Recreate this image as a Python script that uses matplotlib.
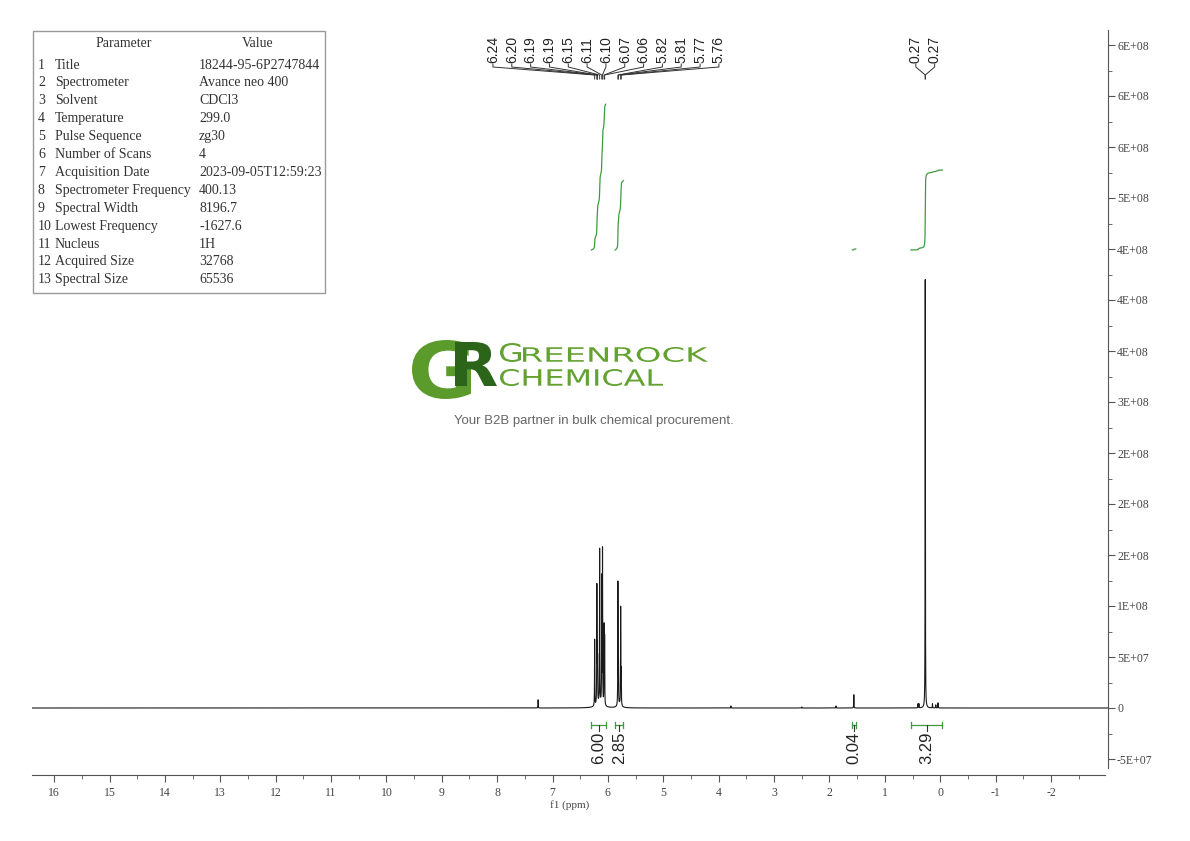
import numpy as np
import matplotlib
matplotlib.use("Agg")
import matplotlib.pyplot as plt
from matplotlib.ticker import MultipleLocator, FixedLocator, FuncFormatter
from matplotlib.transforms import blended_transform_factory, Affine2D
from matplotlib.textpath import TextPath
from matplotlib.font_manager import FontProperties
from matplotlib.patches import PathPatch, Rectangle

# sharp peaks (ppm, intensity)
peak_ppm = [7.26, 6.24, 6.20, 6.193, 6.187, 6.15, 6.112, 6.098, 6.07, 6.06,
            5.82, 5.81, 5.77, 5.76, 3.78, 2.50, 1.88, 1.56,
            0.40, 0.385, 0.27, 0.14, 0.08, 0.04]
peak_height = [8e6, 6.5e7, 1.12e8, 4.3e7, 3.8e7, 1.5e8, 1.22e8, 1.5e8, 7.6e7, 6.5e7,
               1.2e8, 3.8e7, 0.95e8, 3.3e7, 2e6, 1e6, 2e6, 1.3e7,
               4e6, 4e6, 4.2e8, 4e6, 3e6, 5e6]
# broad humps under the multiplets
broad_ppm = [6.15, 5.79]
broad_height = [5e6, 3e6]
broad_width = [0.06, 0.035]

peak_label_groups = [
    [6.24, 6.20, 6.19, 6.19, 6.15, 6.11, 6.10, 6.07, 6.06, 5.82, 5.81, 5.77, 5.76],
    [0.27, 0.27],
]

int_start = [6.30, 5.87, 1.585, 0.53]
int_end = [6.04, 5.72, 1.525, -0.04]
int_value = [6.00, 2.85, 0.04, 3.29]

param_names = ["Title", "Spectrometer", "Solvent", "Temperature", "Pulse Sequence",
               "Number of Scans", "Acquisition Date", "Spectrometer Frequency",
               "Spectral Width", "Lowest Frequency", "Nucleus", "Acquired Size",
               "Spectral Size"]
param_values = ["18244-95-6P2747844", "Avance neo 400", "CDCl3", "299.0", "zg30", "4",
                "2023-09-05T12:59:23", "400.13", "8196.7", "-1627.6", "1H", "32768",
                "65536"]

plt.rcParams['font.family'] = ['Liberation Serif', 'DejaVu Serif']
plt.rcParams['axes.unicode_minus'] = False

W, H = 1190, 841
AX_L, AX_R, AX_T, AX_B = 32, 1108, 30, 768
PX_PER_UNIT = 51 / 5e7  # pixels per intensity unit
Y0_PX = 708             # pixel row of zero intensity

fig = plt.figure(figsize=(W / 100, H / 100), dpi=100)
ax = fig.add_axes([AX_L / W, 1 - AX_B / H, (AX_R - AX_L) / W, (AX_B - AX_T) / H])

# spectrum
x = np.linspace(16.4, -3.03, 400000)
w = 0.0025
y = np.zeros_like(x)
for p, h in zip(peak_ppm, peak_height):
    y += h * w ** 2 / ((x - p) ** 2 + w ** 2)
for p, h, bw in zip(broad_ppm, broad_height, broad_width):
    y += h * bw ** 2 / ((x - p) ** 2 + bw ** 2)
ax.plot(x, y, color='#1a1a1a', lw=0.8)

ax.set_xlim(16.4, -3.03)
ax.set_ylim(-(AX_B - Y0_PX) / PX_PER_UNIT, (Y0_PX - AX_T) / PX_PER_UNIT)

for s in ['top', 'left']:
    ax.spines[s].set_visible(False)
ax.spines['right'].set_color('#555555')
ax.spines['bottom'].set_color('#555555')
ax.spines['bottom'].set_position(('outward', 5))
ax.spines['bottom'].set_bounds(16.4, -2.98)
ax.yaxis.tick_right()
ax.yaxis.set_major_locator(MultipleLocator(5e7))
ax.yaxis.set_minor_locator(MultipleLocator(2.5e7))
ax.yaxis.set_major_formatter(FuncFormatter(lambda v, p: '0' if abs(v) < 1 else f'{v:.0E}'))
ax.xaxis.set_major_locator(FixedLocator(np.arange(-2, 17)))
ax.xaxis.set_minor_locator(FixedLocator(np.arange(-2.5, 16.5, 1.0)))
ax.xaxis.set_major_formatter(FuncFormatter(lambda v, p: f'{v:.0f}'))
ax.tick_params(which='both', color='#555555', labelcolor='#444444', labelsize=8.5)
ax.tick_params(which='major', length=5)
ax.tick_params(which='minor', length=3)
ax.tick_params(axis='y', labelsize=8.5, pad=1.5)
ax.set_xlabel('f1 (ppm)', fontsize=8, color='#444444', labelpad=1)
ax.patch.set_alpha(0)

blend = blended_transform_factory(ax.transData, ax.transAxes)


def yf(ypx):
    return (AX_B - ypx) / (AX_B - AX_T)


# peak labels
spacing = 0.34
for group in peak_label_groups:
    n = len(group)
    center = np.mean(group)
    for i, v in enumerate(group):
        lx = center + ((n - 1) / 2 - i) * spacing
        ax.text(lx, yf(63), f'{v:.2f}', rotation=90, ha='center', va='bottom',
                transform=blend, fontsize=10, family='Liberation Sans', color='#222222')
        ax.plot([lx, lx, v, v], [yf(64), yf(67), yf(75), yf(79)], transform=blend,
                color='#333333', lw=0.7, clip_on=False)

# integrals
green = '#3f9b3f'
for a, b, val in zip(int_start, int_end, int_value):
    m = (x <= a) & (x >= b)
    cum = np.cumsum(y[m])
    cum = cum / cum[-1]
    ax.plot(x[m], yf(250) + cum * val * 24.3 / (AX_B - AX_T), transform=blend,
            color=green, lw=0.9)
    ax.plot([a, b], [yf(725), yf(725)], transform=blend, color=green, lw=0.9)
    ax.plot([a, a], [yf(722), yf(728)], transform=blend, color=green, lw=0.9)
    ax.plot([b, b], [yf(722), yf(728)], transform=blend, color=green, lw=0.9)
    mid = (a + b) / 2
    ax.plot([mid, mid], [yf(725), yf(731)], transform=blend, color='#333333', lw=0.8)
    ax.text(mid, yf(732), f'{val:.2f}', rotation=90, ha='center', va='top',
            transform=blend, fontsize=12, family='Liberation Sans', color='#222222')

# overlay in pixel coordinates for table and logo
ov = fig.add_axes([0, 0, 1, 1])
ov.set_xlim(0, W)
ov.set_ylim(H, 0)
ov.axis('off')
ov.patch.set_alpha(0)

ov.add_patch(Rectangle((33, 31), 292, 262, fill=False, ec='#999999', lw=1))
ov.text(124, 43, 'Parameter', ha='center', va='center', fontsize=10, color='#333333')
ov.text(258, 43, 'Value', ha='center', va='center', fontsize=10, color='#333333')
for i, (nm, vl) in enumerate(zip(param_names, param_values)):
    ry = 65 + i * 17.9
    ov.text(38, ry, str(i + 1), va='center', fontsize=10, color='#333333')
    ov.text(55, ry, nm, va='center', fontsize=10, color='#333333')
    ov.text(199, ry, vl, va='center', fontsize=10, color='#333333')


def fit_text(s, x0, y0, x1, y1, color, weight='bold'):
    fp = FontProperties(family='DejaVu Sans', weight=weight)
    tp = TextPath((0, 0), s, size=100, prop=fp)
    bb = tp.get_extents()
    tr = (Affine2D().translate(-bb.x0, -bb.y0)
          .scale((x1 - x0) / bb.width, -(y1 - y0) / bb.height)
          .translate(x0, y1))
    ov.add_patch(PathPatch(tr.transform_path(tp), fc=color, ec='none'))


fit_text('G', 412, 340, 471, 399, '#5b9b2b')
fit_text('R', 455, 342, 497, 386, '#2c6419')
fit_text('G', 500, 343, 521, 362, '#63a130', 'normal')
fit_text('REENROCK', 523, 347, 708, 362, '#63a130', 'normal')
fit_text('CHEMICAL', 500, 369, 663, 386, '#63a130', 'normal')
ov.text(594, 421, 'Your B2B partner in bulk chemical procurement.', ha='center', va='center',
        fontsize=9.5, family='Liberation Sans', color='#666666')

fig.savefig('out.png', dpi=100)
